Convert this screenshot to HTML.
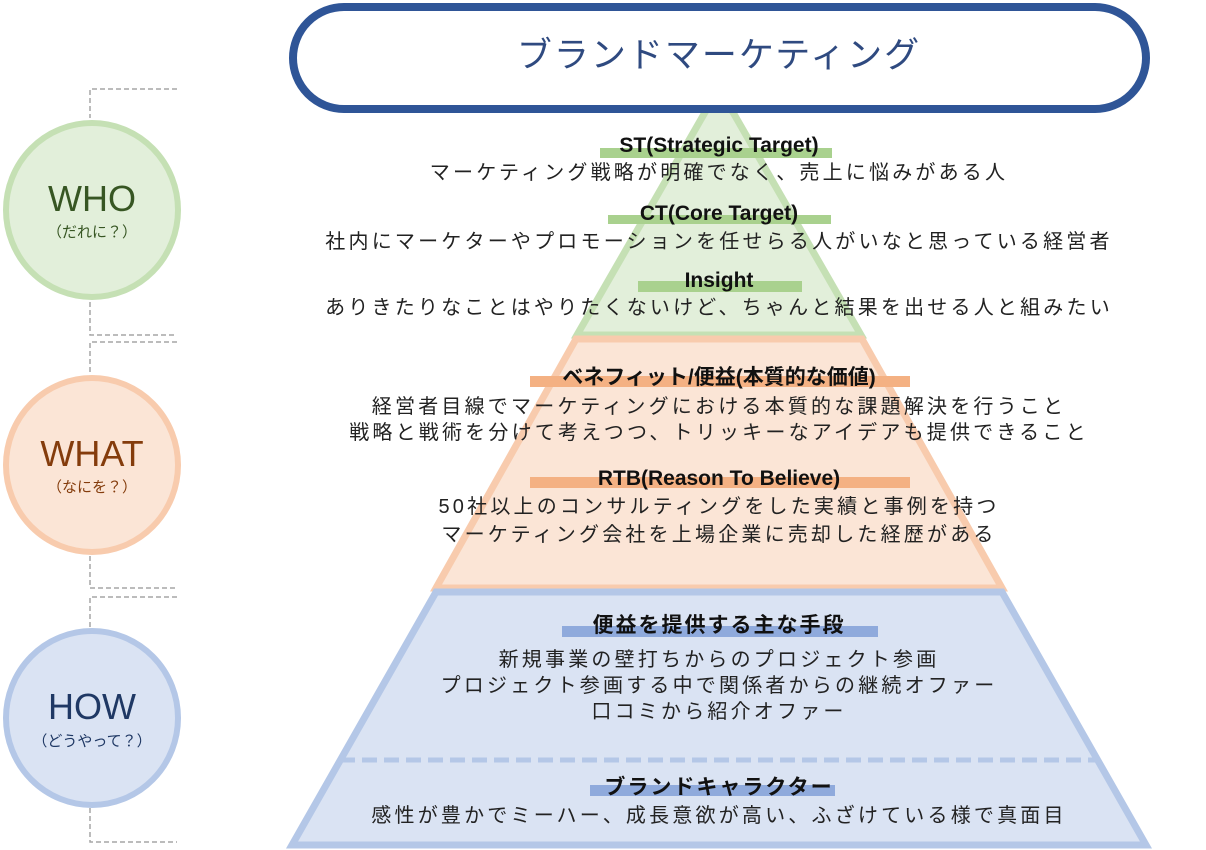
<!DOCTYPE html>
<html><head><meta charset="utf-8"><style>
body{margin:0;width:1206px;height:850px;background:#fff;position:relative;overflow:hidden;font-family:"Liberation Sans","Noto Sans CJK JP",sans-serif;}
.t{position:absolute;left:0;width:1438px;text-align:center;font-size:20px;letter-spacing:3.2px;color:#222;line-height:26px;white-space:nowrap}
.h{position:absolute;left:0;width:1438px;text-align:center;font-size:21px;font-weight:bold;color:#111;line-height:26px;white-space:nowrap}
.c{position:absolute;left:0;width:184px;text-align:center;white-space:nowrap}
</style></head><body>
<svg width="1206" height="850" style="position:absolute;left:0;top:0">
<g fill="none" stroke="#a6a6a6" stroke-width="1.5" stroke-dasharray="5,3">
<polyline points="177,89 90,89 90,118"/><polyline points="90,302 90,335 177,335"/>
<polyline points="177,342 90,342 90,374"/><polyline points="90,556 90,588 177,588"/>
<polyline points="177,597 90,597 90,628"/><polyline points="90,808 90,842 177,842"/>
</g>
<ellipse cx="92" cy="210" rx="86" ry="87" fill="#e2efda" stroke="#c5e0b4" stroke-width="6"/>
<ellipse cx="92" cy="465" rx="86" ry="87" fill="#fbe5d6" stroke="#f8cbad" stroke-width="6"/>
<ellipse cx="92" cy="718" rx="86" ry="87" fill="#dae3f3" stroke="#b4c7e7" stroke-width="6"/>
<polygon points="719,88 861,335 577,335" fill="#e2efda" stroke="#c5e0b4" stroke-width="7" stroke-linejoin="miter"/>
<polygon points="576,339 862,339 1002,588 436,588" fill="#fbe5d6" stroke="#f8cbad" stroke-width="7"/>
<polygon points="436,592 1002,592 1146,845 292,845" fill="#dae3f3" stroke="#b4c7e7" stroke-width="7"/>
<line x1="340" y1="760" x2="1098" y2="760" stroke="#b4c7e7" stroke-width="5" stroke-dasharray="15,7"/>
<rect x="293" y="7" width="853" height="102" rx="51" fill="#fff" stroke="#2f5597" stroke-width="8"/>
<rect x="600" y="148" width="232" height="10" fill="#a9d18e"/>
<rect x="608" y="215" width="223" height="9" fill="#a9d18e"/>
<rect x="638" y="281" width="164" height="11" fill="#a9d18e"/>
<rect x="530" y="376" width="380" height="11" fill="#f4b183"/>
<rect x="530" y="477" width="380" height="11" fill="#f4b183"/>
<rect x="562" y="626" width="316" height="11" fill="#8faadc"/>
<rect x="590" y="785" width="245" height="11" fill="#8faadc"/>
</svg>
<div class="t" style="top:34px;font-size:35px;color:#2f4a80;letter-spacing:2px;line-height:44px">ブランドマーケティング</div>
<div class="c" style="top:178px;font-size:36px;color:#375623">WHO</div>
<div class="c" style="top:221px;font-size:15px;color:#375623">（だれに？）</div>
<div class="c" style="top:433px;font-size:36px;color:#843c0c">WHAT</div>
<div class="c" style="top:476px;font-size:15px;color:#843c0c">（なにを？）</div>
<div class="c" style="top:686px;font-size:36px;color:#1f3864">HOW</div>
<div class="c" style="top:730px;font-size:15px;color:#1f3864">（どうやって？）</div>
<div class="h" style="top:133px">ST(Strategic Target)</div>
<div class="t" style="top:160px">マーケティング戦略が明確でなく、売上に悩みがある人</div>
<div class="h" style="top:201px">CT(Core Target)</div>
<div class="t" style="top:229px">社内にマーケターやプロモーションを任せらる人がいなと思っている経営者</div>
<div class="h" style="top:268px">Insight</div>
<div class="t" style="top:295px">ありきたりなことはやりたくないけど、ちゃんと結果を出せる人と組みたい</div>
<div class="h" style="top:365px">ベネフィット/便益(本質的な価値)</div>
<div class="t" style="top:394px">経営者目線でマーケティングにおける本質的な課題解決を行うこと</div>
<div class="t" style="top:420px">戦略と戦術を分けて考えつつ、トリッキーなアイデアも提供できること</div>
<div class="h" style="top:466px">RTB(Reason To Believe)</div>
<div class="t" style="top:494px">50社以上のコンサルティングをした実績と事例を持つ</div>
<div class="t" style="top:522px">マーケティング会社を上場企業に売却した経歴がある</div>
<div class="h" style="top:613px;letter-spacing:2px">便益を提供する主な手段</div>
<div class="t" style="top:647px">新規事業の壁打ちからのプロジェクト参画</div>
<div class="t" style="top:673px">プロジェクト参画する中で関係者からの継続オファー</div>
<div class="t" style="top:699px">口コミから紹介オファー</div>
<div class="h" style="top:775px;letter-spacing:2px">ブランドキャラクター</div>
<div class="t" style="top:803px">感性が豊かでミーハー、成長意欲が高い、ふざけている様で真面目</div>
</body></html>
